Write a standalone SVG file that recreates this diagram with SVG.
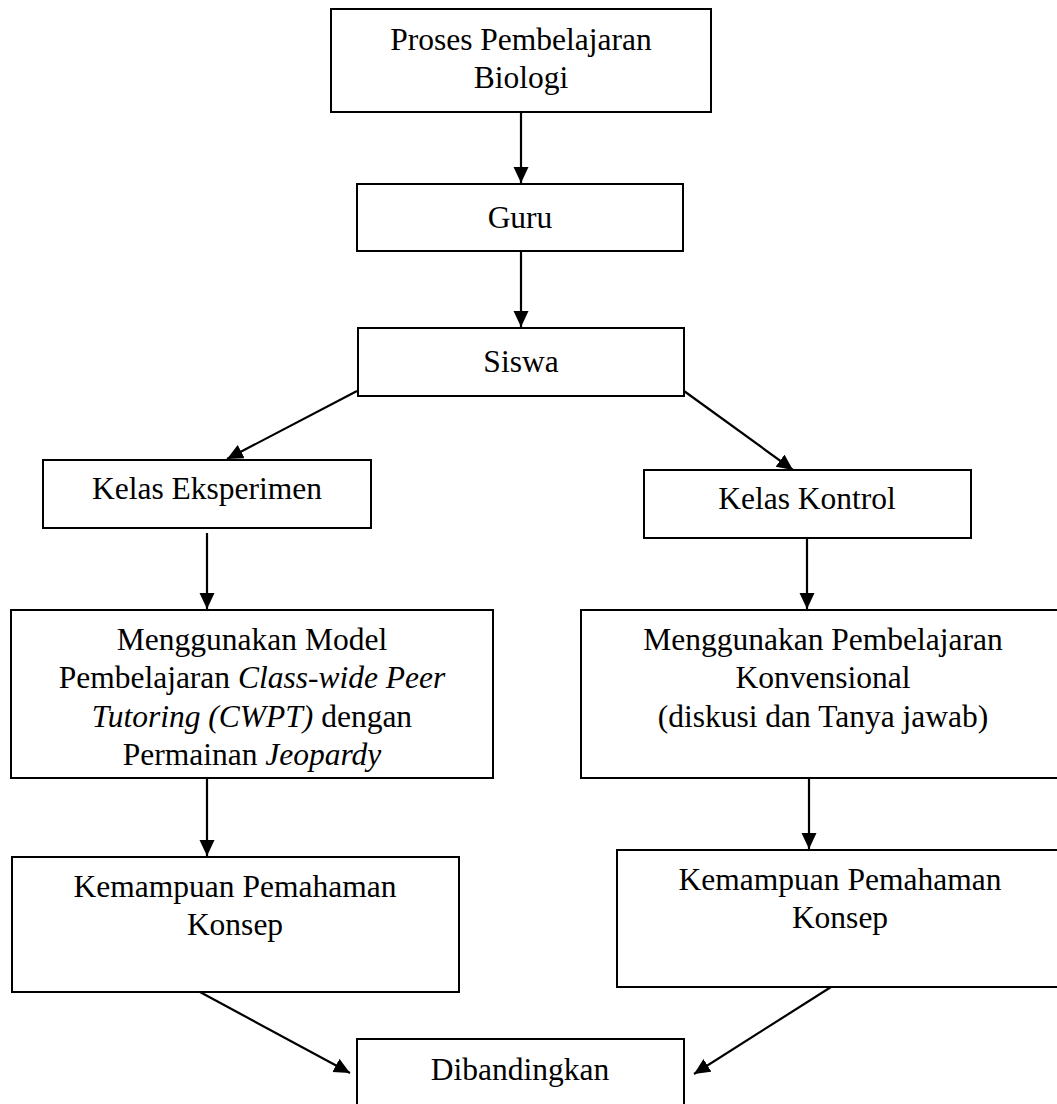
<svg xmlns="http://www.w3.org/2000/svg" width="1057" height="1104" viewBox="0 0 1057 1104">
<style>
.box{fill:#fff;stroke:#000;stroke-width:2}
.t{font-family:"Liberation Serif","Times New Roman",serif;font-size:31.5px;fill:#000;text-anchor:middle}
.i{font-style:italic}
.c{stroke:#000;stroke-width:2.2;fill:none;marker-end:url(#ah)}
</style>
<defs>
<marker id="ah" markerUnits="userSpaceOnUse" markerWidth="18" markerHeight="16" refX="16" refY="7.5" orient="auto">
<path d="M0,0 L16,7.5 L0,15 z" fill="#000"/>
</marker>
</defs>
<rect width="1057" height="1104" fill="#fff"/>
<g id="connectors">
<line class="c" x1="521" y1="112" x2="521" y2="183"/>
<line class="c" x1="521" y1="251" x2="521" y2="327"/>
<line class="c" x1="357" y1="391" x2="227" y2="459"/>
<line class="c" x1="684" y1="391" x2="793" y2="470"/>
<line class="c" x1="207" y1="533" x2="207" y2="609"/>
<line class="c" x1="807" y1="538" x2="807" y2="609"/>
<line class="c" x1="207" y1="778" x2="207" y2="856"/>
<line class="c" x1="809" y1="778" x2="809" y2="849"/>
<line class="c" x1="200" y1="992" x2="350" y2="1073"/>
<line class="c" x1="831" y1="987" x2="694" y2="1074"/>
</g>
<g id="n1"><rect class="box" x="331" y="9" width="380" height="103"/>
<text class="t" x="521" y="50">Proses Pembelajaran</text><text class="t" x="521" y="88">Biologi</text></g>
<g id="n2"><rect class="box" x="357" y="184" width="326" height="67"/>
<text class="t" x="520" y="228">Guru</text></g>
<g id="n3"><rect class="box" x="358" y="328" width="326" height="68"/>
<text class="t" x="521" y="372">Siswa</text></g>
<g id="n4"><rect class="box" x="43" y="460" width="328" height="68"/>
<text class="t" x="207" y="499">Kelas Eksperimen</text></g>
<g id="n5"><rect class="box" x="644" y="470" width="327" height="68"/>
<text class="t" x="807" y="509">Kelas Kontrol</text></g>
<g id="n6"><rect class="box" x="11" y="610" width="482" height="168"/>
<text class="t" x="252" y="650">Menggunakan Model</text>
<text class="t" x="252" y="688">Pembelajaran <tspan class="i">Class-wide Peer</tspan></text>
<text class="t" x="252" y="727"><tspan class="i">Tutoring (CWPT)</tspan> dengan</text>
<text class="t" x="252" y="765">Permainan <tspan class="i">Jeopardy</tspan></text></g>
<g id="n7"><rect class="box" x="581" y="610" width="485" height="168"/>
<text class="t" x="823" y="650">Menggunakan Pembelajaran</text>
<text class="t" x="823" y="688">Konvensional</text>
<text class="t" x="823" y="727">(diskusi dan Tanya jawab)</text></g>
<g id="n8"><rect class="box" x="12" y="857" width="447" height="135"/>
<text class="t" x="235" y="897">Kemampuan Pemahaman</text>
<text class="t" x="235" y="935">Konsep</text></g>
<g id="n9"><rect class="box" x="617" y="850" width="447" height="137"/>
<text class="t" x="840" y="890">Kemampuan Pemahaman</text>
<text class="t" x="840" y="928">Konsep</text></g>
<g id="n10"><rect class="box" x="357" y="1039" width="327" height="80"/>
<text class="t" x="520" y="1080">Dibandingkan</text></g>
</svg>
